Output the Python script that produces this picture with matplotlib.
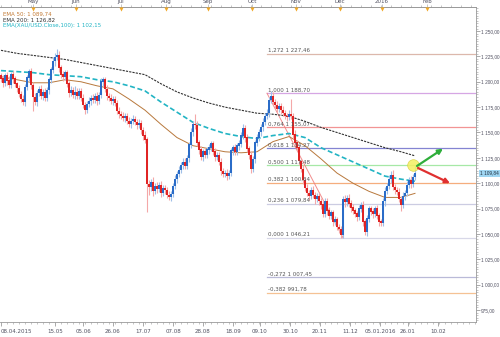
import matplotlib
matplotlib.use("Agg")
import matplotlib.pyplot as plt
import matplotlib.transforms as mtransforms
from matplotlib.ticker import FuncFormatter, MultipleLocator, FixedLocator
import numpy as np

# ---------------- data ----------------
closes = [
    1203, 1199, 1206, 1201, 1197, 1207, 1203, 1198, 1194, 1188,
    1183, 1180, 1195, 1204, 1210, 1197, 1185, 1180, 1189, 1193,
    1186, 1190, 1184, 1192, 1202, 1212, 1220, 1224, 1226, 1214,
    1207, 1205, 1209, 1198, 1189, 1192, 1187, 1190, 1186, 1191,
    1184, 1177, 1172, 1178, 1181, 1184, 1182, 1186, 1181, 1187,
    1200, 1202, 1193, 1186, 1184, 1181, 1183, 1179, 1171, 1168,
    1166, 1164, 1166, 1161, 1158, 1161, 1163, 1160, 1157, 1159,
    1152, 1147, 1143, 1099, 1096, 1101, 1092, 1097, 1094, 1098,
    1090, 1095, 1093, 1088, 1086, 1089, 1097, 1104, 1109, 1113,
    1118, 1121, 1117, 1125, 1138, 1150, 1158, 1157, 1140, 1133,
    1126, 1131, 1128, 1133, 1135, 1139, 1131, 1126, 1128, 1121,
    1112, 1109, 1110, 1107, 1110, 1132, 1135, 1131, 1137, 1139,
    1147, 1154, 1145, 1134, 1128, 1114, 1124, 1140, 1145, 1150,
    1155, 1160, 1166, 1169, 1182, 1186, 1180, 1177, 1173, 1176,
    1172, 1169, 1166, 1165, 1168, 1166, 1148, 1140, 1135, 1122,
    1114, 1103, 1095, 1090, 1087, 1093, 1088, 1084, 1087, 1082,
    1079, 1070, 1082, 1073, 1068, 1071, 1062, 1064, 1057, 1055,
    1049, 1084, 1081, 1085, 1080, 1076, 1073, 1070, 1067, 1075,
    1078, 1062, 1052, 1065, 1075, 1072, 1070, 1075, 1068, 1062,
    1061, 1082, 1092, 1097, 1104, 1108, 1096, 1093, 1091, 1084,
    1079, 1087, 1090, 1098, 1103, 1099, 1106, 1110,
]
first_open = 1206
upper_wick = [
    3, 4, 3, 4, 5, 3, 4, 3, 2, 3,
    3, 4, 3, 3, 3, 4, 3, 4, 3, 3,
    4, 3, 4, 3, 3, 3, 4, 4, 6, 4,
    3, 4, 3, 3, 3, 4, 3, 6, 4, 3,
    3, 4, 3, 3, 4, 3, 4, 3, 4, 3,
    4, 3, 3, 4, 3, 4, 3, 3, 3, 4,
    3, 4, 3, 3, 4, 3, 4, 3, 3, 4,
    3, 3, 4, 3, 4, 3, 5, 3, 4, 3,
    4, 3, 3, 3, 4, 3, 3, 4, 3, 4,
    3, 4, 4, 3, 3, 4, 3, 10, 4, 3,
    4, 3, 4, 3, 4, 3, 3, 4, 3, 3,
    4, 3, 3, 4, 3, 3, 3, 4, 3, 4,
    3, 4, 3, 4, 3, 4, 3, 3, 4, 3,
    3, 4, 3, 4, 3, 5, 4, 3, 4, 3,
    3, 4, 3, 3, 4, 15, 3, 4, 3, 3,
    3, 4, 3, 4, 3, 3, 4, 3, 3, 4,
    3, 4, 3, 3, 4, 3, 3, 4, 3, 3,
    3, 3, 4, 3, 4, 3, 4, 3, 3, 4,
    3, 4, 3, 4, 3, 3, 4, 3, 4, 3,
    3, 3, 4, 3, 4, 4, 5, 3, 3, 4,
    3, 4, 3, 4, 3, 4, 3, 7,
]
lower_wick = [
    3, 4, 3, 4, 3, 3, 4, 3, 4, 3,
    3, 3, 4, 3, 3, 4, 14, 3, 4, 3,
    3, 4, 3, 3, 4, 3, 3, 4, 3, 4,
    3, 4, 3, 3, 4, 3, 3, 4, 3, 3,
    3, 3, 4, 3, 3, 4, 3, 3, 4, 3,
    3, 4, 3, 4, 3, 3, 4, 3, 3, 4,
    3, 3, 4, 3, 3, 4, 3, 3, 4, 3,
    3, 4, 3, 27, 8, 4, 5, 3, 4, 3,
    4, 3, 4, 3, 3, 4, 3, 3, 4, 3,
    3, 4, 3, 3, 4, 3, 3, 4, 3, 4,
    3, 4, 3, 3, 4, 3, 3, 4, 3, 3,
    4, 3, 3, 4, 3, 3, 4, 3, 3, 4,
    3, 3, 4, 3, 4, 4, 3, 4, 3, 3,
    3, 4, 3, 3, 4, 3, 3, 4, 3, 3,
    4, 3, 3, 4, 3, 3, 4, 3, 3, 4,
    3, 4, 3, 3, 4, 3, 3, 4, 3, 3,
    4, 3, 3, 4, 3, 3, 4, 3, 3, 4,
    3, 3, 4, 3, 3, 4, 3, 3, 4, 3,
    3, 4, 3, 4, 3, 3, 4, 3, 3, 4,
    3, 3, 4, 3, 3, 4, 3, 4, 3, 3,
    6, 3, 4, 3, 3, 4, 3, 3,
]

ema_bars = [0, 8, 16, 24, 32, 40, 48, 56, 64, 72, 80, 88, 96, 104, 112, 120,
            128, 136, 144, 152, 160, 168, 176, 184, 192, 200, 207]
ema200 = [1231, 1228, 1226, 1224, 1222, 1219, 1216, 1213, 1210, 1207, 1198, 1190,
          1184, 1179, 1175, 1172, 1169, 1168, 1166, 1161, 1155, 1150, 1145, 1140,
          1135, 1131, 1127]
ema100 = [1211, 1210, 1209, 1207, 1206, 1205, 1202, 1200, 1196, 1191, 1180, 1170,
          1160, 1154, 1149, 1146, 1144, 1147, 1149, 1145, 1135, 1128, 1121, 1114,
          1107, 1104, 1102]
ema50 = [1205, 1202, 1199, 1199, 1202, 1200, 1196, 1193, 1183, 1172, 1158, 1145,
         1137, 1134, 1131, 1130, 1131, 1141, 1146, 1137, 1124, 1110, 1100, 1092,
         1086, 1086, 1090]

fib_ratios = ["1,272", "1,000", "0,764", "0,618", "0,500", "0,382", "0,236",
              "0,000", "-0,272", "-0,382"]
fib_prices = [1227.46, 1188.70, 1155.07, 1134.27, 1117.48, 1100.64, 1079.84,
              1046.21, 1007.45, 991.78]
fib_colors = ["#dcb8ac", "#d6a6e4", "#f29494", "#8484d2", "#a6e8a6", "#f5ad7d",
              "#cccce2", "#d8d8e8", "#babad8", "#f5c294"]
fib_start_bar = 133
trend_bars = [133, 171]
trend_prices = [1188.70, 1046.21]

bottom_labels = ["08.04.2015", "15.05", "05.06", "26.06", "17.07", "07.08", "28.08",
                 "18.09", "09.10", "30.10", "20.11", "11.12", "05.01.2016", "26.01", "10.02"]
bottom_ticks = [0, 27, 41, 56, 71, 86, 101, 116, 129.5, 144.5, 159.5, 174.5, 189.5, 203.5, 218.5]
month_labels = ["May", "Jun", "Jul", "Aug", "Sep", "Oct", "Nov", "Dec", "2016", "Feb"]
month_ticks = [16, 37.5, 60, 82.5, 103.5, 125.5, 147.5, 169.5, 190.5, 213]

last_price = 1109.84
legend_texts = ["EMA 50: 1 089,74", "EMA 200: 1 126,82", "EMA(XAU/USD.Close,100): 1 102,15"]

circle_pt = (206, 1118)
green_arrow = [(208, 1117), (221, 1134)]
red_arrow = [(208.5, 1115), (224.5, 1100)]

# ---------------- figure ----------------
W, H = 500, 337
fig = plt.figure(figsize=(W / 100, H / 100), dpi=100)
ax = fig.add_axes([0.0, 1 - 322 / H, 476 / W, (322 - 7) / H])
ax.set_xlim(-0.5, 237.5)
ax.set_ylim(963.2, 1273.7)

FS = 4.0
YFS = 3.4
YFONT = "Liberation Sans"
TXT = "#505060"

def fmt_price(v):
    s = f"{v:,.2f}"
    return s.replace(",", " ").replace(".", ",")

# fibonacci levels
for r, p, c in zip(fib_ratios, fib_prices, fib_colors):
    ax.plot([fib_start_bar, 237.5], [p, p], color=c, lw=0.9, zorder=1)
    ax.text(fib_start_bar + 0.5, p + 0.8, f"{r} {fmt_price(p)}", fontsize=FS,
            color="#555555", va="bottom", ha="left", zorder=6)
ax.plot(trend_bars, trend_prices, color="#f08080", lw=0.7, alpha=0.9, zorder=2)

# EMAs
ax.plot(ema_bars, ema200, color="#333333", lw=0.8, dashes=(2, 1), zorder=3)
ax.plot(ema_bars, ema100, color="#22b4c4", lw=1.2, dashes=(3, 1.6), zorder=3)
ax.plot(ema_bars, ema50, color="#b8783c", lw=0.7, zorder=3)

# candles
closes_a = np.array(closes, dtype=float)
opens_a = np.array([first_open] + closes[:-1], dtype=float)
top = np.maximum(opens_a, closes_a)
bot = np.minimum(opens_a, closes_a)
highs = top + np.array(upper_wick)
lows = bot - np.array(lower_wick)
idx = np.arange(len(closes))
up = closes_a >= opens_a
ax.vlines(idx[up], lows[up], highs[up], color="#9fbfe8", lw=0.8, zorder=4)
ax.vlines(idx[~up], lows[~up], highs[~up], color="#f4a8a8", lw=0.8, zorder=4)
ax.bar(idx[up], (top - bot)[up] + 0.3, bottom=bot[up], width=0.8, color="#2a6cc8", zorder=5)
ax.bar(idx[~up], (top - bot)[~up] + 0.3, bottom=bot[~up], width=0.8, color="#e02424", zorder=5)

# circle and arrows
ax.scatter([circle_pt[0]], [circle_pt[1]], s=70, color="#f4f060", alpha=0.85,
           edgecolors="#d8d040", linewidths=0.5, zorder=7)
ax.annotate("", xy=green_arrow[1], xytext=green_arrow[0],
            arrowprops=dict(arrowstyle="-|>", color="#2eae3a", lw=1.6, mutation_scale=7,
                            shrinkA=0, shrinkB=0), zorder=8)
ax.annotate("", xy=red_arrow[1], xytext=red_arrow[0],
            arrowprops=dict(arrowstyle="-|>", color="#e03030", lw=1.6, mutation_scale=7,
                            shrinkA=0, shrinkB=0), zorder=8)

# axes styling
ax.spines["left"].set_visible(False)
for s in ["top", "right", "bottom"]:
    ax.spines[s].set_color("#999999")
    ax.spines[s].set_linewidth(0.6)

ax.yaxis.tick_right()
ax.yaxis.set_major_locator(MultipleLocator(25))
ax.yaxis.set_minor_locator(MultipleLocator(2.5))
ax.yaxis.set_major_formatter(FuncFormatter(lambda v, p: fmt_price(v)))
ax.tick_params(axis="y", which="major", length=3, width=0.5, color="#888888",
               labelsize=YFS, labelcolor=TXT, pad=0.5)
ax.tick_params(axis="y", which="minor", length=1.5, width=0.4, color="#999999")
for lbl in ax.get_yticklabels():
    lbl.set_fontfamily(YFONT)

ax.xaxis.set_major_locator(FixedLocator(bottom_ticks))
ax.xaxis.set_minor_locator(MultipleLocator(3))
ax.set_xticklabels(bottom_labels)
ax.tick_params(axis="x", which="major", length=3, width=0.5, color="#888888",
               labelsize=FS, labelcolor=TXT, pad=2)
ax.tick_params(axis="x", which="minor", length=1.5, width=0.4, color="#999999")
ax.get_xticklabels()[0].set_ha("left")

# top month axis
sec = ax.secondary_xaxis("top")
sec.set_xticks(month_ticks)
sec.set_xticklabels(month_labels)
sec.xaxis.set_minor_locator(MultipleLocator(5))
sec.tick_params(axis="x", which="major", length=2, width=0.4, color="#999999",
                labelsize=FS, labelcolor=TXT, pad=0.5)
sec.tick_params(axis="x", which="minor", length=1.5, width=0.4, color="#999999")
sec.spines["top"].set_color("#999999")
sec.spines["top"].set_linewidth(0.6)
trans = mtransforms.blended_transform_factory(ax.transData, ax.transAxes)
ax.scatter(month_ticks, [0.993] * len(month_ticks), marker="v", s=9, color="#f0a828",
           transform=trans, clip_on=False, zorder=9, linewidths=0)

# current price tag
ytrans = mtransforms.blended_transform_factory(ax.transAxes, ax.transData)
ax.text(1.008, last_price, fmt_price(last_price), transform=ytrans, fontsize=YFS,
        family=YFONT, color="#203040", va="center", ha="left", zorder=10,
        bbox=dict(boxstyle="square,pad=0.2", fc="#9fd6f2", ec="none"))

# legend texts
leg_colors = ["#c27a34", "#333333", "#22b4c4"]
for k, (t, c) in enumerate(zip(legend_texts, leg_colors)):
    fig.text(3 / W, 1 - (14 + 6 * k) / H, t, fontsize=FS, color=c, va="center", ha="left")

fig.savefig("out.png", dpi=100)
